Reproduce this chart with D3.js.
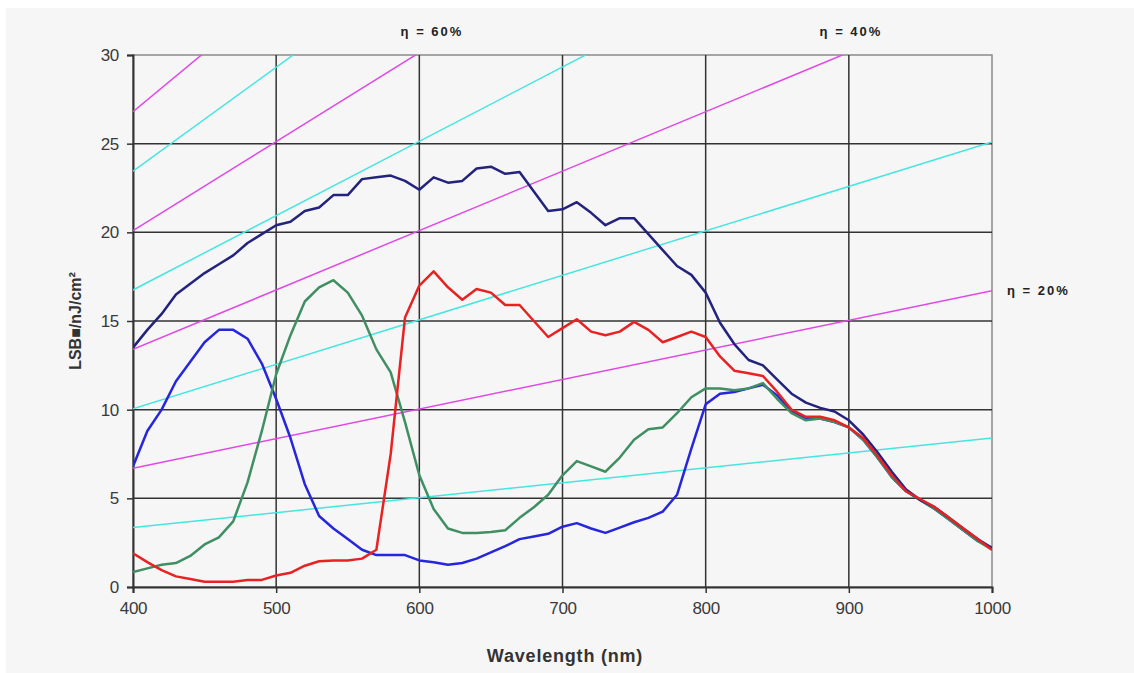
<!DOCTYPE html>
<html>
<head>
<meta charset="utf-8">
<script src="https://cdn.jsdelivr.net/npm/d3@7"></script>
<style>
  body { margin: 0; background: #fff; }
  text { font-family: "Liberation Sans", Arial, sans-serif; }
</style>
</head>
<body>
<div id="vis"></div>
<script>
// wavelengths, 10 nm steps
const wavelengths = d3.range(400, 1001, 10);

const navy = [13.5, 14.5, 15.4, 16.5, 17.1, 17.7, 18.2, 18.7, 19.4, 19.9,
  20.4, 20.6, 21.2, 21.4, 22.1, 22.1, 23.0, 23.1, 23.2, 22.9,
  22.4, 23.1, 22.8, 22.9, 23.6, 23.7, 23.3, 23.4, 22.3, 21.2,
  21.3, 21.7, 21.1, 20.4, 20.8, 20.8, 19.9, 19.0, 18.1, 17.6,
  16.6, 14.9, 13.7, 12.8, 12.5, 11.7, 10.9, 10.4, 10.1, 9.9,
  9.4, 8.6, 7.6, 6.5, 5.5, 4.9, 4.5, 3.9, 3.3, 2.7, 2.2];

const blue = [6.8, 8.8, 10.0, 11.6, 12.7, 13.8, 14.5, 14.5, 14.0, 12.6,
  10.6, 8.4, 5.8, 4.0, 3.3, 2.7, 2.1, 1.8, 1.8, 1.8,
  1.5, 1.4, 1.25, 1.35, 1.6, 1.95, 2.3, 2.7, 2.85, 3.0,
  3.4, 3.6, 3.3, 3.05, 3.35, 3.65, 3.9, 4.25, 5.2, 7.8,
  10.3, 10.9, 11.0, 11.2, 11.4, 10.8, 9.9, 9.5, 9.5, 9.3,
  9.0, 8.3, 7.3, 6.2, 5.4, 4.9, 4.4, 3.8, 3.2, 2.6, 2.2];

const green = [0.85, 1.05, 1.25, 1.35, 1.75, 2.4, 2.8, 3.7, 5.9, 8.8,
  12.0, 14.2, 16.1, 16.9, 17.3, 16.6, 15.3, 13.4, 12.1, 9.3,
  6.3, 4.4, 3.3, 3.05, 3.05, 3.1, 3.2, 3.9, 4.5, 5.2,
  6.3, 7.1, 6.8, 6.5, 7.3, 8.3, 8.9, 9.0, 9.8, 10.7,
  11.2, 11.2, 11.1, 11.2, 11.5, 10.6, 9.8, 9.4, 9.5, 9.3,
  9.0, 8.3, 7.3, 6.2, 5.4, 4.9, 4.4, 3.8, 3.2, 2.6, 2.1];

const red = [1.9, 1.4, 0.95, 0.6, 0.45, 0.3, 0.3, 0.3, 0.4, 0.4,
  0.65, 0.8, 1.2, 1.45, 1.5, 1.5, 1.6, 2.1, 7.5, 15.2,
  17.0, 17.8, 16.9, 16.2, 16.8, 16.6, 15.9, 15.9, 15.0, 14.1,
  14.6, 15.1, 14.4, 14.2, 14.4, 14.95, 14.5, 13.8, 14.1, 14.4,
  14.1, 13.0, 12.2, 12.05, 11.9, 11.0, 10.0, 9.6, 9.6, 9.4,
  9.0, 8.4, 7.4, 6.3, 5.4, 4.95, 4.5, 3.9, 3.3, 2.7, 2.1];

// constant efficiency reference lines: value at 400 nm and at 1000 nm
const effAt400 = [3.35, 6.7, 10.05, 13.4, 16.75, 20.1, 23.45, 26.8];
const effAt1000 = [8.4, 16.7, 25.1, 33.5, 41.9, 50.2, 58.6, 67.0];
const effColors = ['#44e6e0', '#e048e6', '#44e6e0', '#e048e6', '#44e6e0', '#e048e6', '#44e6e0', '#e048e6'];

const effLabels = ['η = 60%', 'η = 40%', 'η = 20%'];

const xTicks = [400, 500, 600, 700, 800, 900, 1000];
const yTicks = [0, 5, 10, 15, 20, 25, 30];

const width = 1134, height = 673;
const margin = { left: 133, right: 142, top: 55, bottom: 86 };

const svg = d3.select('#vis').append('svg')
  .attr('width', width)
  .attr('height', height);

svg.append('rect')
  .attr('x', 6).attr('y', 8)
  .attr('width', width - 6).attr('height', height - 8)
  .attr('fill', '#f6f6f6');

const x = d3.scaleLinear().domain([400, 1000]).range([margin.left, width - margin.right]);
const y = d3.scaleLinear().domain([0, 30]).range([height - margin.bottom, margin.top]);

// plot border (top / right lighter)
svg.append('rect')
  .attr('x', x(400)).attr('y', y(30))
  .attr('width', x(1000) - x(400)).attr('height', y(0) - y(30))
  .attr('fill', 'none')
  .attr('stroke', '#8a8a8a')
  .attr('stroke-width', 1.5);

// grid
svg.append('g')
  .selectAll('line.v')
  .data(xTicks.slice(1, -1))
  .join('line')
  .attr('x1', d => x(d)).attr('x2', d => x(d))
  .attr('y1', y(30)).attr('y2', y(0))
  .attr('stroke', '#333')
  .attr('stroke-width', 1.5);

svg.append('g')
  .selectAll('line.h')
  .data(yTicks.slice(1, -1))
  .join('line')
  .attr('x1', x(400)).attr('x2', x(1000))
  .attr('y1', d => y(d)).attr('y2', d => y(d))
  .attr('stroke', '#333')
  .attr('stroke-width', 1.5);

// axes
const xAxis = svg.append('g')
  .attr('transform', `translate(0,${y(0)})`)
  .call(d3.axisBottom(x).tickValues(xTicks).tickFormat(d3.format('d')).tickSize(6).tickPadding(9));
const yAxis = svg.append('g')
  .attr('transform', `translate(${x(400)},0)`)
  .call(d3.axisLeft(y).tickValues(yTicks).tickSize(6).tickPadding(8));

[xAxis, yAxis].forEach(a => {
  a.select('.domain').attr('stroke', '#333').attr('stroke-width', 2);
  a.selectAll('.tick line').attr('stroke', '#333').attr('stroke-width', 1.5);
  a.selectAll('.tick text')
    .attr('fill', '#3a3a3a')
    .style('font-size', '17px')
    .style('letter-spacing', '-0.3px')
    .style('font-family', '"Liberation Sans", Arial, sans-serif');
});

// clip
svg.append('clipPath').attr('id', 'clip')
  .append('rect')
  .attr('x', x(400)).attr('y', y(30))
  .attr('width', x(1000) - x(400)).attr('height', y(0) - y(30));

const plot = svg.append('g').attr('clip-path', 'url(#clip)');

plot.selectAll('line.eff')
  .data(effAt400)
  .join('line')
  .attr('x1', x(400)).attr('y1', d => y(d))
  .attr('x2', x(1000)).attr('y2', (d, i) => y(effAt1000[i]))
  .attr('stroke', (d, i) => effColors[i])
  .attr('stroke-width', 1.5);

const line = d3.line()
  .x((d, i) => x(wavelengths[i]))
  .y(d => y(d));

const series = [
  { values: blue, color: '#2626dc' },
  { values: green, color: '#3f8f62' },
  { values: navy, color: '#23237e' },
  { values: red, color: '#e82222' }
];

plot.selectAll('path.curve')
  .data(series)
  .join('path')
  .attr('d', d => line(d.values))
  .attr('fill', 'none')
  .attr('stroke', d => d.color)
  .attr('stroke-width', 2.5)
  .attr('stroke-linejoin', 'round');

// efficiency labels
const labelPos = [[432, 36, 'middle'], [851, 36, 'middle'], [1007, 295, 'start']];
svg.selectAll('text.eff')
  .data(effLabels)
  .join('text')
  .attr('x', (d, i) => labelPos[i][0])
  .attr('y', (d, i) => labelPos[i][1])
  .attr('text-anchor', (d, i) => labelPos[i][2])
  .attr('font-size', 13)
  .attr('font-weight', 'bold')
  .attr('letter-spacing', 2)
  .attr('fill', '#222')
  .text(d => d);

// axis titles
svg.append('text')
  .attr('x', 565)
  .attr('y', 662)
  .attr('text-anchor', 'middle')
  .attr('font-size', 18)
  .attr('font-weight', 'bold')
  .attr('letter-spacing', 0.8)
  .attr('fill', '#333')
  .text('Wavelength (nm)');

svg.append('text')
  .attr('transform', `translate(81,${(y(0) + y(30)) / 2}) rotate(-90)`)
  .attr('text-anchor', 'middle')
  .attr('font-size', 16)
  .attr('font-weight', 'bold')
  .attr('fill', '#333')
  .text('LSB■/nJ/cm²');
</script>
</body>
</html>
